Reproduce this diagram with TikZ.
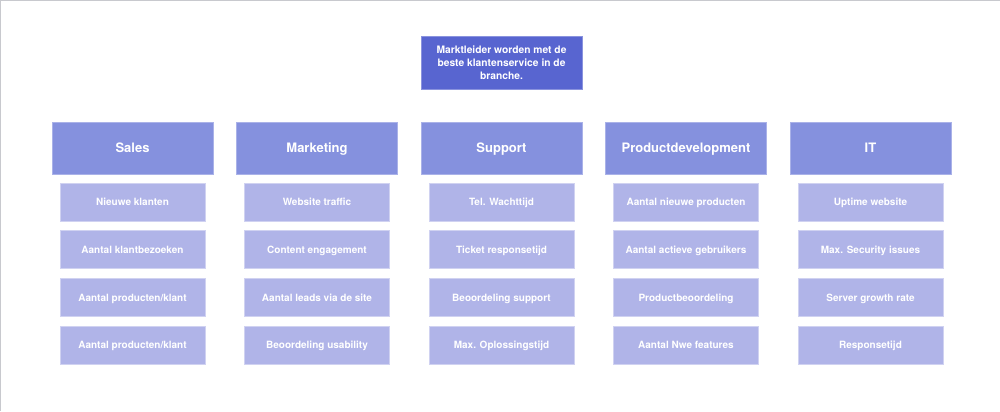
\documentclass[tikz,border=0pt]{standalone}
\usepackage{fontspec}
\setmainfont{TeX Gyre Heros}
\definecolor{goalc}{HTML}{5865D0}
\definecolor{headc}{HTML}{8591DE}
\definecolor{subc}{HTML}{B0B4E8}
\definecolor{framec}{HTML}{C8C9CE}
\begin{document}
\begin{tikzpicture}[x=0.75pt,y=-0.75pt,
  goalbox/.style={fill=goalc,draw=goalc!70!white,line width=0.5pt,text=white,inner sep=0pt,
    minimum width=120.75pt,minimum height=39.75pt,align=center,
    font=\fontsize{7.7pt}{9.75pt}\selectfont\bfseries},
  headbox/.style={fill=headc,draw=headc!70!white,line width=0.5pt,text=white,inner sep=0pt,
    minimum width=120.75pt,minimum height=39pt,text height=7pt,text depth=0pt,
    font=\fontsize{9.75pt}{11pt}\selectfont\bfseries},
  subbox/.style={fill=subc,draw=subc!60!white,line width=0.6pt,text=white,inner sep=0pt,
    minimum width=108.75pt,minimum height=28.5pt,text height=5.4pt,text depth=0pt,
    font=\fontsize{7.5pt}{9pt}\selectfont\bfseries}]
\useasboundingbox (0,0) rectangle (1000,411);
\fill[white] (0,0) rectangle (1000,411);
\draw[framec,line width=0.75pt] (0.5,411) -- (0.5,0.5) -- (1000,0.5);

\node[goalbox] (goal) at (501.5,63) {Marktleider worden met de\\beste klantenservice in de\\branche.};

\node[headbox] (h1) at (132.5,148) {Sales};
\node[headbox] (h2) at (317,148) {Marketing};
\node[headbox] (h3) at (501.5,148) {Support};
\node[headbox] (h4) at (686,148) {Productdevelopment};
\node[headbox] (h5) at (870.5,148) {IT};

\node[subbox] (s11) at (132.5,202) {Nieuwe klanten};
\node[subbox] (s12) at (132.5,249.7) {Aantal klantbezoeken};
\node[subbox] (s13) at (132.5,297.4) {Aantal producten/klant};
\node[subbox] (s14) at (132.5,345.1) {Aantal producten/klant};

\node[subbox] (s21) at (317,202) {Website traffic};
\node[subbox] (s22) at (317,249.7) {Content engagement};
\node[subbox] (s23) at (317,297.4) {Aantal leads via de site};
\node[subbox] (s24) at (317,345.1) {Beoordeling usability};

\node[subbox] (s31) at (501.5,202) {Tel. Wachttijd};
\node[subbox] (s32) at (501.5,249.7) {Ticket responsetijd};
\node[subbox] (s33) at (501.5,297.4) {Beoordeling support};
\node[subbox] (s34) at (501.5,345.1) {Max. Oplossingstijd};

\node[subbox] (s41) at (686,202) {Aantal nieuwe producten};
\node[subbox] (s42) at (686,249.7) {Aantal actieve gebruikers};
\node[subbox] (s43) at (686,297.4) {Productbeoordeling};
\node[subbox] (s44) at (686,345.1) {Aantal Nwe features};

\node[subbox] (s51) at (870.5,202) {Uptime website};
\node[subbox] (s52) at (870.5,249.7) {Max. Security issues};
\node[subbox] (s53) at (870.5,297.4) {Server growth rate};
\node[subbox] (s54) at (870.5,345.1) {Responsetijd};
\end{tikzpicture}
\end{document}
